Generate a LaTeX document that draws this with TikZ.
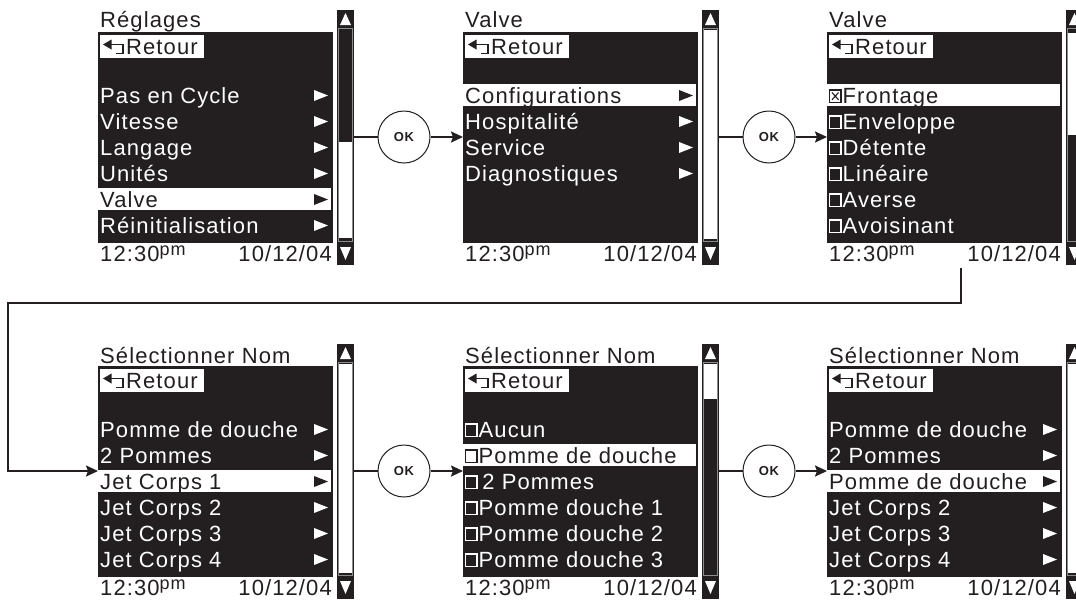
\documentclass[tikz,border=0pt]{standalone}
\usepackage{fontspec}
\setmainfont{Liberation Sans}[LetterSpace=5]
\usetikzlibrary{arrows.meta}
\definecolor{ink}{RGB}{35,31,32}
\definecolor{trk}{RGB}{140,140,140}
\newcommand\lcd{\fontsize{22}{26}\selectfont}
\tikzset{
  lcdtext/.style={anchor=base west,inner sep=0pt,font=\lcd},
  datetext/.style={anchor=base east,inner sep=0pt,font=\lcd,text=ink},
  body/.style={anchor=north west,fill=ink,minimum width=235pt,minimum height=211pt,inner sep=0pt},
  sbar/.style={anchor=north west,fill=ink,minimum width=17pt,minimum height=255pt,inner sep=0pt},
  okc/.style={circle,draw=ink,line width=1pt,minimum size=52pt,inner sep=0pt,text=ink,font=\fontsize{13}{13}\selectfont\bfseries},
  conn/.style={draw=ink,line width=2pt},
  arr/.style={-{Stealth[length=12pt,width=11pt,inset=2pt]}}
}
% item helpers (index 0..5)
\newcommand\Mitem[4]{\node[lcdtext,text=#4] (#1) at (2,{71+26*#2}) {#3};}
\newcommand\Citem[4]{\node[lcdtext,text=#4] (#1) at (15.5,{71+26*#2}) {#3};}
\newcommand\Mhl[1]{\fill[white] (0,{71+26*#1-19}) rectangle (233,{71+26*#1+3});}
\newcommand\Mtri[2]{\fill[#2] (216,{71+26*#1-13}) -- (230,{71+26*#1-7.5}) -- (216,{71+26*#1-2}) -- cycle;}
\newcommand\Mbox[2]{\draw[#2,line width=1.4pt] (2.5,{71+26*#1-13}) rectangle (14,{71+26*#1-0.7});}
\newcommand\Mcross[2]{\draw[#2,line width=1.1pt] (5,{71+26*#1-10.5}) -- (11.5,{71+26*#1-3.2}) (5,{71+26*#1-3.2}) -- (11.5,{71+26*#1-10.5});}
\newcommand\Retour[1]{%
  \fill[white] (2,3) rectangle (106,26);
  \draw[ink,line width=1.6pt] (11,12.5) -- (25,12.5) -- (25,21.5) -- (18,21.5);
  \fill[ink] (5,12.5) -- (13.5,7.5) -- (13.5,17.5) -- cycle;
  \node[lcdtext,text=ink] (#1r) at (28,22) {Retour};}
\newcommand\Footer[1]{%
  \node[lcdtext,text=ink] (#1t) at (2,229) {12:30\raisebox{6pt}{\fontsize{18}{18}\selectfont pm}};
  \node[datetext] (#1d) at (234,229) {10/12/04};}
\newcommand\Sbar[3]{%
  \node[sbar] (#1) at (239,-22) {};
  \fill[white] (247.5,-19) -- (253,-7) -- (242,-7) -- cycle;
  \draw[trk,line width=0.8pt,fill=ink] (240.5,-3.5) rectangle (254.5,209.5);
  \fill[white] (241,#2) rectangle (254,#3);
  \fill[white] (242,215) -- (253,215) -- (247.5,228) -- cycle;}
\begin{document}
\begin{tikzpicture}[x=1pt,y=-1pt]
\useasboundingbox (0,0) rectangle (1076,603);
\clip (0,0) rectangle (1076,603);
\fill[white] (0,0) rectangle (1076,603);
% ---------- screen 1
\begin{scope}[shift={(98,32)}]
  \node[body] (s1) at (0,0) {};
  \node[lcdtext,text=ink] (s1h) at (2,-5) {Réglages};
  \Retour{s1}
  \Mhl{4}
  \Mitem{s1a}{0}{Pas en Cycle}{white}\Mtri{0}{white}
  \Mitem{s1b}{1}{Vitesse}{white}\Mtri{1}{white}
  \Mitem{s1c}{2}{Langage}{white}\Mtri{2}{white}
  \Mitem{s1d}{3}{Unités}{white}\Mtri{3}{white}
  \Mitem{s1e}{4}{Valve}{ink}\Mtri{4}{ink}
  \Mitem{s1f}{5}{Réinitialisation}{white}\Mtri{5}{white}
  \Footer{s1}
  \Sbar{sb1}{110}{206}
\end{scope}
% ---------- screen 2
\begin{scope}[shift={(463,32)}]
  \node[body] (s2) at (0,0) {};
  \node[lcdtext,text=ink] (s2h) at (2,-5) {Valve};
  \Retour{s2}
  \Mhl{0}
  \Mitem{s2a}{0}{Configurations}{ink}\Mtri{0}{ink}
  \Mitem{s2b}{1}{Hospitalité}{white}\Mtri{1}{white}
  \Mitem{s2c}{2}{Service}{white}\Mtri{2}{white}
  \Mitem{s2d}{3}{Diagnostiques}{white}\Mtri{3}{white}
  \Footer{s2}
  \Sbar{sb2}{-2}{207}
\end{scope}
% ---------- screen 3
\begin{scope}[shift={(827,32)}]
  \node[body] (s3) at (0,0) {};
  \node[lcdtext,text=ink] (s3h) at (2,-5) {Valve};
  \Retour{s3}
  \Mhl{0}
  \Mbox{0}{ink}\Mcross{0}{ink}\Citem{s3a}{0}{Frontage}{ink}
  \Mbox{1}{white}\Citem{s3b}{1}{Enveloppe}{white}
  \Mbox{2}{white}\Citem{s3c}{2}{Détente}{white}
  \Mbox{3}{white}\Citem{s3d}{3}{Linéaire}{white}
  \Mbox{4}{white}\Citem{s3e}{4}{Averse}{white}
  \Mbox{5}{white}\Citem{s3f}{5}{Avoisinant}{white}
  \Footer{s3}
  \Sbar{sb3}{1}{103}
\end{scope}
% ---------- screen 4
\begin{scope}[shift={(98,366)}]
  \node[body] (s4) at (0,0) {};
  \node[lcdtext,text=ink] (s4h) at (2,-3) {Sélectionner Nom};
  \Retour{s4}
  \Mhl{2}
  \Mitem{s4a}{0}{Pomme de douche}{white}\Mtri{0}{white}
  \Mitem{s4b}{1}{2 Pommes}{white}\Mtri{1}{white}
  \Mitem{s4c}{2}{Jet Corps 1}{ink}\Mtri{2}{ink}
  \Mitem{s4d}{3}{Jet Corps 2}{white}\Mtri{3}{white}
  \Mitem{s4e}{4}{Jet Corps 3}{white}\Mtri{4}{white}
  \Mitem{s4f}{5}{Jet Corps 4}{white}\Mtri{5}{white}
  \Footer{s4}
  \Sbar{sb4}{-2}{207}
\end{scope}
% ---------- screen 5
\begin{scope}[shift={(463,366)}]
  \node[body] (s5) at (0,0) {};
  \node[lcdtext,text=ink] (s5h) at (2,-3) {Sélectionner Nom};
  \Retour{s5}
  \Mhl{1}
  \Mbox{0}{white}\Citem{s5a}{0}{Aucun}{white}
  \Mbox{1}{ink}\Citem{s5b}{1}{Pomme de douche}{ink}
  \Mbox{2}{white}\Citem{s5c}{2}{\,2 Pommes}{white}
  \Mbox{3}{white}\Citem{s5d}{3}{Pomme douche 1}{white}
  \Mbox{4}{white}\Citem{s5e}{4}{Pomme douche 2}{white}
  \Mbox{5}{white}\Citem{s5f}{5}{Pomme douche 3}{white}
  \Footer{s5}
  \Sbar{sb5}{-2}{33}
\end{scope}
% ---------- screen 6
\begin{scope}[shift={(827,366)}]
  \node[body] (s6) at (0,0) {};
  \node[lcdtext,text=ink] (s6h) at (2,-3) {Sélectionner Nom};
  \Retour{s6}
  \Mhl{2}
  \Mitem{s6a}{0}{Pomme de douche}{white}\Mtri{0}{white}
  \Mitem{s6b}{1}{2 Pommes}{white}\Mtri{1}{white}
  \Mitem{s6c}{2}{Pomme de douche}{ink}\Mtri{2}{ink}
  \Mitem{s6d}{3}{Jet Corps 2}{white}\Mtri{3}{white}
  \Mitem{s6e}{4}{Jet Corps 3}{white}\Mtri{4}{white}
  \Mitem{s6f}{5}{Jet Corps 4}{white}\Mtri{5}{white}
  \Footer{s6}
  \Sbar{sb6}{-2}{207}
\end{scope}
% ---------- OK buttons and connectors
\node[okc] (ok1) at (404,137) {OK};
\node[okc] (ok2) at (769,137) {OK};
\node[okc] (ok3) at (404,471) {OK};
\node[okc] (ok4) at (769,471) {OK};
\draw[conn] (sb1.east |- ok1.west) -- (ok1.west);
\draw[conn,arr] (ok1.east) -- (s2.west |- ok1.east);
\draw[conn] (sb2.east |- ok2.west) -- (ok2.west);
\draw[conn,arr] (ok2.east) -- (s3.west |- ok2.east);
\draw[conn] (sb4.east |- ok3.west) -- (ok3.west);
\draw[conn,arr] (ok3.east) -- (s5.west |- ok3.east);
\draw[conn] (sb5.east |- ok4.west) -- (ok4.west);
\draw[conn,arr] (ok4.east) -- (s6.west |- ok4.east);
\coordinate (c3) at (961,268);
\coordinate (k1) at (961,303);
\coordinate (k2) at (8,303);
\coordinate (k3) at (8,471);
\draw[conn,arr] (c3) -- (k1) -- (k2) -- (k3) -- (s4.west |- k3);
\end{tikzpicture}
\end{document}
